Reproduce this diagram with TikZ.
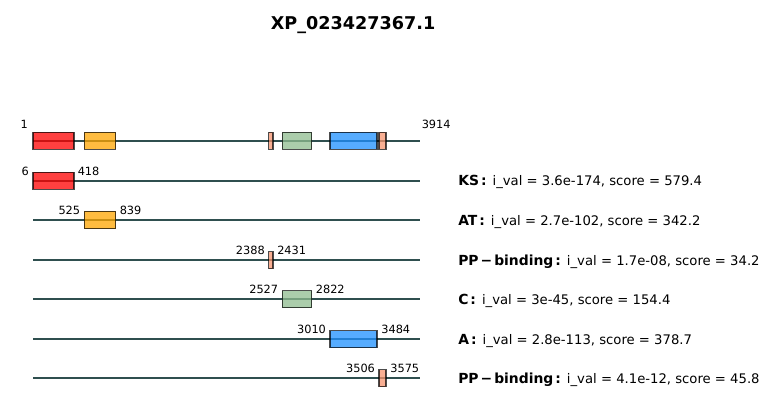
\documentclass[tikz,border=0pt]{standalone}
\usepackage{fontspec}
\setmainfont{DejaVu Sans}
\definecolor{seqc}{HTML}{2F4F4F}
\definecolor{ksc}{HTML}{FF0000}
\definecolor{atc}{HTML}{FFA500}
\definecolor{ppc}{HTML}{F7946F}
\definecolor{cc}{HTML}{8FBC8F}
\definecolor{ac}{HTML}{1E90FF}
\newcommand{\dlab}[2]{{\bfseries\fontsize{10.42}{12}\selectfont #1\hspace{1.5pt}:}\hspace{4.5pt}{\fontsize{9.9}{12}\selectfont #2}}
\begin{document}
\begin{tikzpicture}[x=0.75pt,y=-0.75pt,
  seqline/.style={draw=seqc,line width=1.5pt},
  dom/.style={draw=black,draw opacity=0.7,fill opacity=0.75,line width=1.1pt},
  num/.style={font=\fontsize{8.5}{10}\selectfont,inner sep=0pt},
  lab/.style={inner sep=0pt,anchor=base west},
  ttl/.style={font=\bfseries\fontsize{13.2}{15}\selectfont,inner sep=0pt}]
\useasboundingbox (0,0) rectangle (777,420);
\node[ttl] (title) at (353,25.5) {XP\_023427367.1};
% row 0: full protein
\coordinate (s0) at (33,141); \coordinate (e0) at (420,141);
\draw[seqline] (s0) -- (e0);
\draw[dom,fill=ksc] (33,132.5) rectangle (73.8,149.5);
\draw[dom,fill=atc] (84.4,132.5) rectangle (115.5,149.5);
\draw[dom,fill=ppc] (268.7,132.5) rectangle (272.9,149.5);
\draw[dom,fill=cc] (282.4,132.5) rectangle (311.6,149.5);
\draw[dom,fill=ac] (330.2,132.5) rectangle (377.1,149.5);
\draw[dom,fill=ppc] (379.2,132.5) rectangle (386.1,149.5);
\node[num,anchor=base east] (n1) at (28,129) {1};
\node[num,anchor=base west] (n3914) at (421.5,129) {3914};
% row 1 KS
\coordinate (s1) at (33,181); \coordinate (e1) at (420,181);
\draw[seqline] (s1) -- (e1);
\draw[dom,fill=ksc] (33,172.5) rectangle (73.8,189.5);
\node[num,anchor=base east] (a1) at (29,175.5) {6};
\node[num,anchor=base west] (b1) at (77.5,175.5) {418};
\node[lab] (l1) at (458,186) {\dlab{KS}{i\_val = 3.6e-174, score = 579.4}};
% row 2 AT
\coordinate (s2) at (33,220); \coordinate (e2) at (420,220);
\draw[seqline] (s2) -- (e2);
\draw[dom,fill=atc] (84.4,211.5) rectangle (115.5,228.5);
\node[num,anchor=base east] (a2) at (80.4,214.5) {525};
\node[num,anchor=base west] (b2) at (119.5,214.5) {839};
\node[lab] (l2) at (458,225.5) {\dlab{AT}{i\_val = 2.7e-102, score = 342.2}};
% row 3 PP
\coordinate (s3) at (33,260); \coordinate (e3) at (420,260);
\draw[seqline] (s3) -- (e3);
\draw[dom,fill=ppc] (268.7,251.5) rectangle (272.9,268.5);
\node[num,anchor=base east] (a3) at (265,254) {2388};
\node[num,anchor=base west] (b3) at (277,254) {2431};
\node[lab] (l3) at (458,265) {\dlab{PP\hspace{1.5pt}−\hspace{1.5pt}binding}{i\_val = 1.7e-08, score = 34.2}};
% row 4 C
\coordinate (s4) at (33,299); \coordinate (e4) at (420,299);
\draw[seqline] (s4) -- (e4);
\draw[dom,fill=cc] (282.4,290.5) rectangle (311.6,307.5);
\node[num,anchor=base east] (a4) at (278.4,293.5) {2527};
\node[num,anchor=base west] (b4) at (315.6,293.5) {2822};
\node[lab] (l4) at (458,304.5) {\dlab{C}{i\_val = 3e-45, score = 154.4}};
% row 5 A
\coordinate (s5) at (33,339); \coordinate (e5) at (420,339);
\draw[seqline] (s5) -- (e5);
\draw[dom,fill=ac] (330.2,330.5) rectangle (377.1,347.5);
\node[num,anchor=base east] (a5) at (326.2,333) {3010};
\node[num,anchor=base west] (b5) at (381.1,333) {3484};
\node[lab] (l5) at (458,344) {\dlab{A}{i\_val = 2.8e-113, score = 378.7}};
% row 6 PP
\coordinate (s6) at (33,378); \coordinate (e6) at (420,378);
\draw[seqline] (s6) -- (e6);
\draw[dom,fill=ppc] (379.2,369.5) rectangle (386.1,386.5);
\node[num,anchor=base east] (a6) at (375.2,372.5) {3506};
\node[num,anchor=base west] (b6) at (390.1,372.5) {3575};
\node[lab] (l6) at (458,383.5) {\dlab{PP\hspace{1.5pt}−\hspace{1.5pt}binding}{i\_val = 4.1e-12, score = 45.8}};
\end{tikzpicture}
\end{document}
